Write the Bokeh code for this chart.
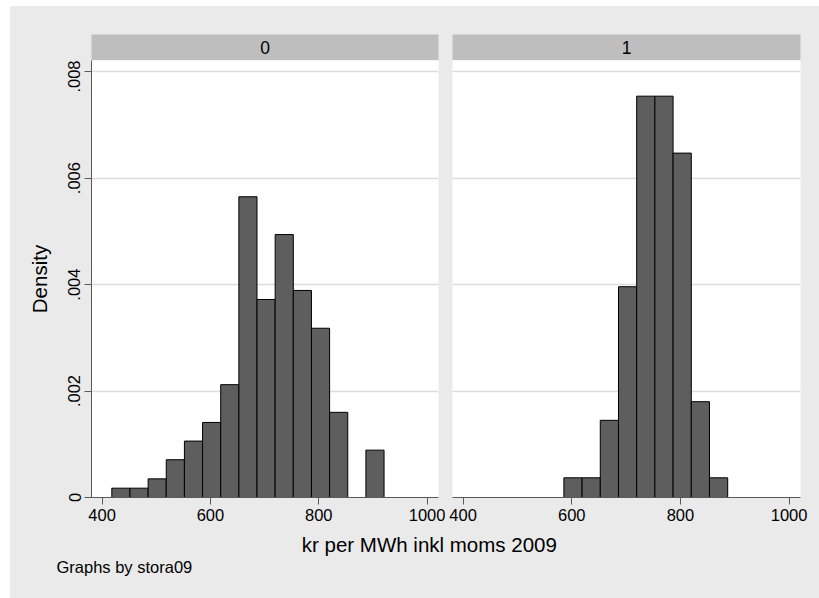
import numpy as np
from bokeh.plotting import figure
from bokeh.models import Range1d, FixedTicker, Grid, ColumnDataSource
from bokeh.layouts import column, row
from bokeh.embed import file_html
from bokeh.resources import INLINE
from bokeh.core.properties import value

# ---------------- data ----------------
groups = ["0", "1"]
bin_start = 418.0
bin_width = 33.5
# densities per bin, group 0 (bins 0..14)
dens_0 = [0.000175, 0.000175, 0.00035, 0.00071, 0.00106, 0.00141, 0.00212,
          0.00565, 0.00372, 0.00494, 0.00389, 0.00318, 0.00160, 0.0, 0.00089]
first_bin_0 = 0
# densities per bin, group 1 (bins 5..13)
dens_1 = [0.00037, 0.00037, 0.00145, 0.00396, 0.00754, 0.00754, 0.00647,
          0.00180, 0.00037]
first_bin_1 = 5

x_ticks = [400, 600, 800, 1000]
x_tick_labels = ["400", "600", "800", "1000"]
y_ticks = [0, 0.002, 0.004, 0.006, 0.008]
y_tick_labels = ["0", ".002", ".004", ".006", ".008"]
x_title = "kr per MWh inkl moms 2009"
y_title = "Density"
note = "Graphs by stora09"

# ---------------- style ----------------
FONT = "Liberation Sans"
BG = "#EAEAEA"
HDR = "#BEBEBE"
BAR = "#5E5E5E"
AX = "#5A5A5A"
GRID = "#DCDCDC"
X_RANGE = (380.5, 1021.0)
Y_RANGE = (0.0, 0.00821)

ORIGIN_X, ORIGIN_Y = 10, 6
LEFT_W, RIGHT_W = 435, 374
LEFT_B = (81, 7)
RIGHT_B = (7, 19)
HEAD_H, HEAD_TOP = 54, 28
PANEL_H, PANEL_BOTTOM = 470, 33
FOOT_H = 68
FOOT_TOP = ORIGIN_Y + HEAD_H + PANEL_H  # page y of footer top
TEXT_SHIFT = 7.5


def make_header(label, width, borders):
    h = figure(width=width, height=HEAD_H, x_range=Range1d(*X_RANGE), y_range=Range1d(0, 1),
               output_backend="svg", toolbar_location=None,
               x_axis_location=None, y_axis_location=None,
               min_border_left=borders[0], min_border_right=borders[1],
               min_border_top=HEAD_TOP, min_border_bottom=0)
    h.background_fill_color = HDR
    h.border_fill_color = BG
    h.outline_line_color = None
    h.grid.visible = False
    h.text(x=[(X_RANGE[0] + X_RANGE[1]) / 2], y=[0.5], text=[label],
           text_align="center", text_baseline="middle",
           text_font=value(FONT), text_font_size="17.5px", text_color="#000000")
    return h


def make_panel(dens, first_bin, width, borders, show_y):
    p = figure(width=width, height=PANEL_H, x_range=Range1d(*X_RANGE), y_range=Range1d(*Y_RANGE),
               output_backend="svg", toolbar_location=None,
               y_axis_location="left" if show_y else None,
               min_border_left=borders[0], min_border_right=borders[1],
               min_border_top=0, min_border_bottom=PANEL_BOTTOM)
    p.background_fill_color = "white"
    p.border_fill_color = BG
    p.outline_line_color = None
    p.grid.visible = False
    p.add_layout(Grid(dimension=1, ticker=FixedTicker(ticks=y_ticks[1:]),
                      grid_line_color=GRID, grid_line_width=1.3))

    xa = p.xaxis[0]
    xa.ticker = FixedTicker(ticks=x_ticks)
    xa.major_label_overrides = {t: l for t, l in zip(x_ticks, x_tick_labels)}
    xa.axis_line_color = AX
    xa.major_tick_line_color = AX
    xa.major_tick_out = 7
    xa.major_tick_in = 0
    xa.minor_tick_line_color = None
    xa.major_label_text_font = FONT
    xa.major_label_text_font_size = "16.5px"
    xa.major_label_text_color = "#000000"
    xa.major_label_standoff = 4

    if show_y:
        ya = p.yaxis[0]
        ya.ticker = FixedTicker(ticks=y_ticks)
        ya.major_label_overrides = {t: l for t, l in zip(y_ticks, y_tick_labels)}
        ya.axis_line_color = AX
        ya.major_tick_line_color = AX
        ya.major_tick_out = 7
        ya.major_tick_in = 0
        ya.minor_tick_line_color = None
        ya.major_label_text_font = FONT
        ya.major_label_text_font_size = "16.5px"
        ya.major_label_text_color = "#000000"
        ya.major_label_orientation = "vertical"
        ya.major_label_standoff = 4
        ya.axis_label = y_title
        ya.axis_label_text_font = FONT
        ya.axis_label_text_font_size = "20.5px"
        ya.axis_label_text_font_style = "normal"
        ya.axis_label_text_color = "#000000"
        ya.axis_label_standoff = 15

    idx = np.arange(first_bin, first_bin + len(dens))
    lefts = bin_start + bin_width * idx
    d = np.array(dens)
    keep = d > 0
    src = ColumnDataSource(dict(left=lefts[keep], right=(lefts + bin_width)[keep], top=d[keep]))
    p.quad(left="left", right="right", bottom=0, top="top", source=src,
           fill_color=BAR, line_color="#000000", line_width=1)
    return p


h0 = make_header(groups[0], LEFT_W, LEFT_B)
h1 = make_header(groups[1], RIGHT_W, RIGHT_B)
p0 = make_panel(dens_0, first_bin_0, LEFT_W, LEFT_B, True)
p1 = make_panel(dens_1, first_bin_1, RIGHT_W, RIGHT_B, False)

FOOT_W = LEFT_W + RIGHT_W
b = figure(width=FOOT_W, height=FOOT_H, x_range=Range1d(0, FOOT_W),
           y_range=Range1d(FOOT_H, 0), output_backend="svg", toolbar_location=None,
           x_axis_location=None, y_axis_location=None, min_border=0,
           min_border_left=0, min_border_right=0, min_border_top=0, min_border_bottom=0)
b.background_fill_color = BG
b.border_fill_color = BG
b.outline_line_color = None
b.grid.visible = False
b.text(x=[428.8 - ORIGIN_X], y=[551.7 - FOOT_TOP - TEXT_SHIFT], text=[x_title],
       text_align="center", text_baseline="alphabetic",
       text_font=value(FONT), text_font_size="20.5px", text_color="#000000")
b.text(x=[56 - ORIGIN_X], y=[574 - FOOT_TOP - TEXT_SHIFT], text=[note], text_align="left",
       text_baseline="alphabetic",
       text_font=value(FONT), text_font_size="16.5px", text_color="#000000")

bgstyle = {"background-color": BG}
layout = column(row(h0, h1, spacing=0, styles=bgstyle),
                row(p0, p1, spacing=0, styles=bgstyle),
                b, spacing=0, styles=bgstyle,
                margin=(ORIGIN_Y, 0, 0, ORIGIN_X))

open("out.html", "w").write(file_html(layout, INLINE))
